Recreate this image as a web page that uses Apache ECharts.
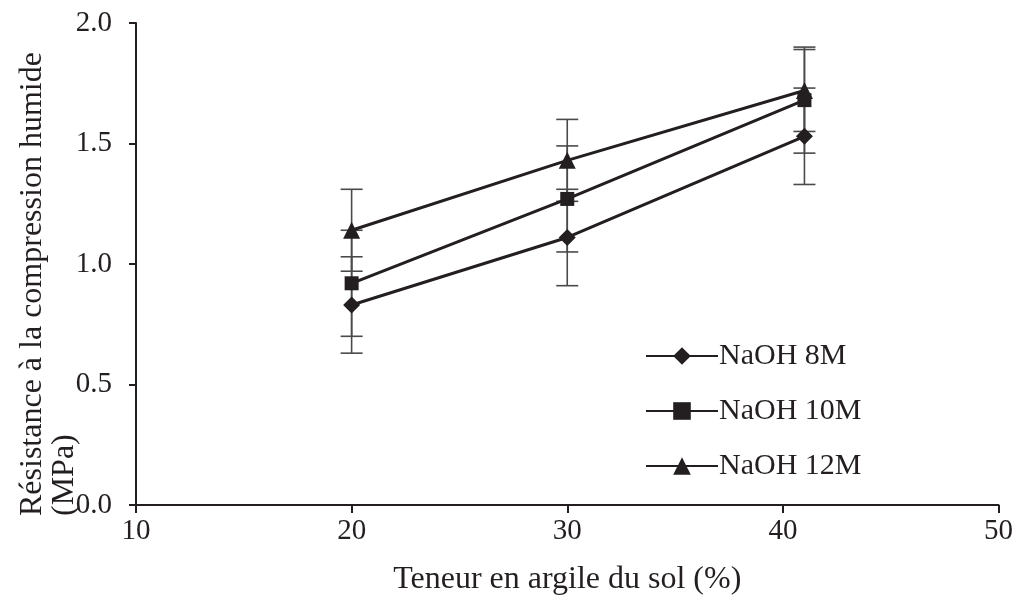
<!DOCTYPE html>
<html><head><meta charset="utf-8">
<script src="https://cdn.jsdelivr.net/npm/echarts@6/dist/echarts.min.js"></script>
<style>html,body{margin:0;padding:0;background:#fff}#c{width:1016px;height:603px}</style>
</head><body><div id="c"></div>
<script>
const clayContent = [20, 30, 41];
const seriesNames = ['NaOH 8M', 'NaOH 10M', 'NaOH 12M'];
const naoh8 = [0.83, 1.11, 1.53];
const naoh10 = [0.92, 1.27, 1.68];
const naoh12 = [1.14, 1.43, 1.72];
const err8 = [0.20, 0.20, 0.20];
const err10 = [0.22, 0.22, 0.22];
const err12 = [0.17, 0.17, 0.17];
const xTicks = [10, 20, 30, 40, 50];
const yTicks = [0, 0.5, 1.0, 1.5, 2.0];

const font = '"Liberation Serif", "Times New Roman", serif';
const ink = '#231f20';
const values = [naoh8, naoh10, naoh12];
const errs = [err8, err10, err12];
const symbols = ['diamond', 'rect', 'triangle'];
const symSizes = [17, 14, 17];

const series = [];
values.forEach((vals, i) => {
  series.push({
    type: 'custom',
    name: seriesNames[i] + '_err',
    z: 1,
    silent: true,
    data: clayContent.map((x, k) => [x, vals[k] - errs[i][k], vals[k] + errs[i][k]]),
    renderItem: function (params, api) {
      const x = api.value(0);
      const lo = api.coord([x, api.value(1)]);
      const hi = api.coord([x, api.value(2)]);
      const hw = 11;
      const st = { stroke: '#4a4a4a', lineWidth: 1.6 };
      return { type: 'group', children: [
        { type: 'line', shape: { x1: lo[0], y1: lo[1], x2: hi[0], y2: hi[1] }, style: st },
        { type: 'line', shape: { x1: lo[0] - hw, y1: lo[1], x2: lo[0] + hw, y2: lo[1] }, style: st },
        { type: 'line', shape: { x1: hi[0] - hw, y1: hi[1], x2: hi[0] + hw, y2: hi[1] }, style: st }
      ]};
    }
  });
});
values.forEach((vals, i) => {
  series.push({
    type: 'line',
    name: seriesNames[i],
    z: 3,
    data: clayContent.map((x, k) => [x, vals[k]]),
    symbol: symbols[i],
    symbolSize: symSizes[i],
    lineStyle: { color: ink, width: 3 },
    itemStyle: { color: ink, borderWidth: 0 },
    emphasis: { disabled: true }
  });
});

const chart = echarts.init(document.getElementById('c'));
chart.setOption({
  animation: false,
  backgroundColor: '#fff',
  grid: { left: 136, right: 10, top: 23, bottom: 98 },
  legend: {
    data: seriesNames,
    orient: 'vertical',
    left: 640,
    top: 336,
    itemWidth: 72,
    itemHeight: 22,
    itemGap: 25,
    textStyle: { fontFamily: font, fontSize: 30, color: ink, padding: [0, 0, 0, -4] }
  },
  xAxis: {
    type: 'value', min: 10, max: 50, interval: 10,
    name: 'Teneur en argile du sol (%)',
    nameLocation: 'middle', nameGap: 59,
    nameTextStyle: { fontFamily: font, fontSize: 32, color: ink },
    axisLine: { lineStyle: { color: ink, width: 2 } },
    axisTick: { length: 8, lineStyle: { color: ink, width: 2 } },
    axisLabel: { fontFamily: font, fontSize: 29, color: ink, margin: 12,
      formatter: v => xTicks.includes(v) ? String(v) : '' },
    splitLine: { show: false }
  },
  yAxis: {
    type: 'value', min: 0, max: 2, interval: 0.5,
    axisLine: { show: true, lineStyle: { color: ink, width: 2 } },
    axisTick: { show: true, length: 7, lineStyle: { color: ink, width: 2 } },
    axisLabel: { fontFamily: font, fontSize: 29, color: ink, margin: 24,
      formatter: v => yTicks.includes(v) ? v.toFixed(1) : '' },
    splitLine: { show: false }
  },
  graphic: [{
    type: 'text',
    x: 17, y: 516,
    rotation: Math.PI / 2,
    style: {
      text: 'Résistance à la compression humide\n(MPa)',
      font: '32px ' + font,
      fill: ink,
      textAlign: 'left',
      textVerticalAlign: 'top',
      lineHeight: 32
    }
  }],
  series: series
});
</script>
</body></html>
